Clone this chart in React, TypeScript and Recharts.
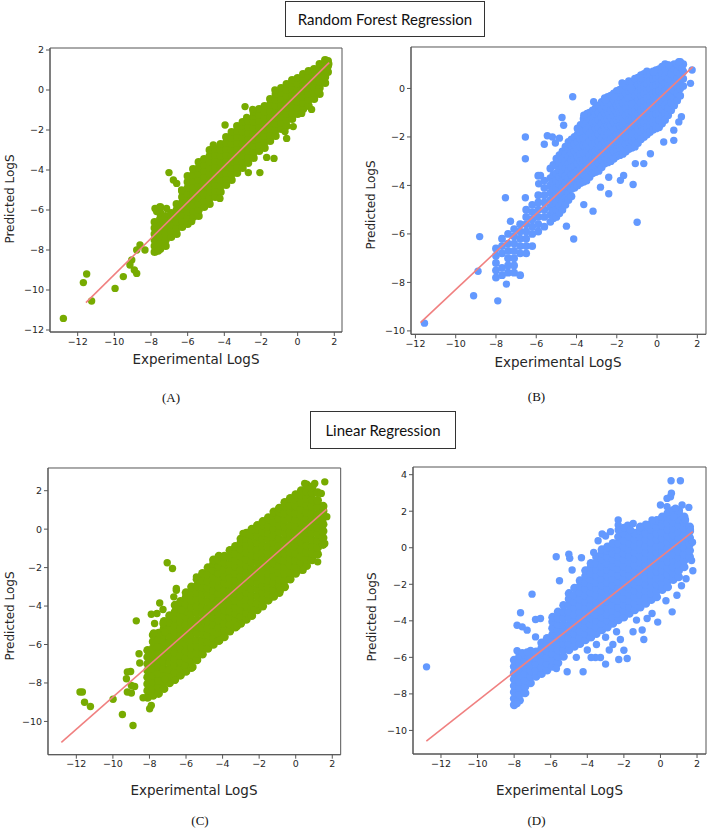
import { ScatterChart, Scatter, XAxis, YAxis, ReferenceArea } from 'recharts'

type Col = [number, number[]]
type Pt = [number, number]

const GREEN = '#77ab00'
const BLUE = '#6399ff'
const FIT = '#f08080'

const xTicks = [-12, -10, -8, -6, -4, -2, 0, 2]
const yTicksA = [-12, -10, -8, -6, -4, -2, 0, 2]
const yTicksB = [-10, -8, -6, -4, -2, 0]
const yTicksC = [-10, -8, -6, -4, -2, 0, 2]
const yTicksD = [-10, -8, -6, -4, -2, 0, 2, 4]

// (A) random forest, training set: dense band by column, then stray points
const rfTrainCols: Col[] = [
  [-7.8, [-8.1, -7.8, -7.5, -7.2, -6.9, -6.6]],
  [-7.5, [-7.95, -7.65, -7.35, -7.05, -6.75, -6.45, -6.15, -5.85]],
  [-7.2, [-7.8, -7.5, -7.2, -6.9, -6.6, -6.3]],
  [-6.9, [-7.35, -7.05, -6.75, -6.45, -6.15]],
  [-6.6, [-7.2, -6.9, -6.6, -6.3, -6.0, -5.7]],
  [-6.3, [-6.85, -6.55, -6.25, -5.95, -5.65, -5.35, -5.05]],
  [-6.0, [-6.7, -6.4, -6.1, -5.8, -5.5, -5.2, -4.9, -4.6, -4.3]],
  [-5.7, [-6.35, -6.05, -5.75, -5.45, -5.15, -4.85, -4.55, -4.25, -3.95]],
  [-5.4, [-6.3, -6.0, -5.7, -5.4, -5.1, -4.8, -4.5, -4.2, -3.9, -3.6]],
  [-5.1, [-5.85, -5.55, -5.25, -4.95, -4.65, -4.35, -4.05, -3.75, -3.45]],
  [-4.8, [-5.7, -5.4, -5.1, -4.8, -4.5, -4.2, -3.9, -3.6, -3.3, -3.0]],
  [-4.5, [-5.35, -5.05, -4.75, -4.45, -4.15, -3.85, -3.55, -3.25, -2.95]],
  [-4.2, [-5.1, -4.8, -4.5, -4.2, -3.9, -3.6, -3.3, -3.0, -2.7]],
  [-3.9, [-4.75, -4.45, -4.15, -3.85, -3.55, -3.25, -2.95, -2.65, -2.35]],
  [-3.6, [-4.5, -4.2, -3.9, -3.6, -3.3, -3.0, -2.7, -2.4, -2.1]],
  [-3.3, [-4.15, -3.85, -3.55, -3.25, -2.95, -2.65, -2.35, -2.05, -1.8]],
  [-3.0, [-3.9, -3.6, -3.3, -3.0, -2.7, -2.4, -2.1, -1.8, -1.6]],
  [-2.7, [-3.65, -3.35, -3.05, -2.75, -2.45, -2.15, -1.85, -1.55]],
  [-2.4, [-3.4, -3.1, -2.8, -2.5, -2.2, -1.9, -1.6, -1.3, -1.1]],
  [-2.1, [-3.05, -2.75, -2.45, -2.15, -1.85, -1.55, -1.25, -0.95]],
  [-1.8, [-2.9, -2.6, -2.3, -2.0, -1.7, -1.4, -1.1, -0.8]],
  [-1.5, [-2.55, -2.25, -1.95, -1.65, -1.35, -1.05, -0.75, -0.45]],
  [-1.2, [-2.3, -2.0, -1.7, -1.4, -1.1, -0.8, -0.5, -0.2]],
  [-0.9, [-1.95, -1.65, -1.35, -1.05, -0.75, -0.45, -0.15, 0.1]],
  [-0.6, [-1.8, -1.5, -1.2, -0.9, -0.6, -0.3, 0.0, 0.3]],
  [-0.3, [-1.45, -1.15, -0.85, -0.55, -0.25, 0.05, 0.35, 0.5]],
  [0.0, [-1.2, -0.9, -0.6, -0.3, 0.0, 0.3, 0.6]],
  [0.3, [-0.95, -0.65, -0.35, -0.05, 0.25, 0.55, 0.8]],
  [0.6, [-0.8, -0.5, -0.2, 0.1, 0.4, 0.7, 0.95]],
  [0.9, [-0.45, -0.15, 0.15, 0.45, 0.75, 1.05]],
  [1.2, [-0.2, 0.1, 0.4, 0.7, 1.0, 1.3]],
  [1.5, [0.35, 0.65, 0.95, 1.25, 1.5]],
  [1.65, [0.9, 1.2, 1.45]],
]
const rfTrainOut: Pt[] = [
  [-12.78, -11.42], [-11.24, -10.55], [-11.69, -9.63], [-11.51, -9.2], [-9.96, -9.92],
  [-9.51, -9.33], [-8.91, -9.0], [-8.78, -9.17], [-9.15, -8.75], [-9.05, -8.5],
  [-8.6, -7.75], [-8.78, -8.0], [-8.33, -8.0], [-7.6, -8.05], [-7.02, -4.13],
  [-6.78, -4.5], [-6.6, -4.67], [-6.33, -5.0], [-5.78, -6.58], [-7.33, -6.5],
  [-7.69, -6.08], [-7.78, -5.92], [-7.15, -5.92], [-4.6, -2.75], [-3.96, -1.75],
  [-2.78, -1.37], [-2.87, -0.83], [-2.45, -0.97], [-1.24, 0.0], [-1.29, -3.42],
  [-1.69, -3.37], [-2.06, -4.13], [-2.69, -4.13], [-0.69, -2.08], [-0.6, -2.42],
  [-0.24, -1.83], [0.76, -0.97], [1.12, -0.08], [0.22, -1.17], [-4.24, -5.42],
  [-5.15, -5.17], [1.7, 1.3],
]
const rfTrainFit: Pt[] = [[-11.55, -10.63], [1.72, 1.37]]

// (B) random forest, test set
const rfTestCols: Col[] = [
  [-8.0, [-7.8, -7.5, -7.2, -6.9, -6.6]],
  [-7.7, [-7.7, -7.4, -6.8, -6.5, -6.2]],
  [-7.4, [-7.6, -7.3, -7.0, -6.7, -6.4, -6.0]],
  [-7.1, [-7.6, -7.3, -7.0, -6.7, -6.4, -6.1, -5.8]],
  [-6.8, [-7.7, -6.8, -6.5, -6.2, -5.9, -5.6]],
  [-6.5, [-6.8, -6.5, -6.2, -5.9, -5.6, -5.3, -5.0]],
  [-6.2, [-6.5, -6.0, -5.7, -5.4, -5.1, -4.8]],
  [-5.9, [-5.9, -5.6, -5.3, -5.0, -4.7, -4.4, -3.6]],
  [-5.6, [-5.7, -5.3, -5.0, -4.7, -4.4, -4.1, -3.8]],
  [-5.3, [-5.5, -5.2, -4.9, -4.6, -4.3, -4.0, -3.7, -3.3]],
  [-5.15, [-5.35, -5.05, -4.75, -4.45, -4.15, -3.85, -3.55, -3.15]],
  [-5.0, [-5.3, -5.0, -4.7, -4.4, -4.1, -3.8, -3.5, -3.2, -2.9]],
  [-4.85, [-5.15, -4.85, -4.55, -4.25, -3.95, -3.65, -3.35, -3.05, -2.75]],
  [-4.7, [-5.0, -4.7, -4.4, -4.1, -3.8, -3.5, -3.2, -2.9, -2.6]],
  [-4.55, [-4.8, -4.5, -4.2, -3.9, -3.6, -3.3, -3.0, -2.7, -2.4]],
  [-4.4, [-4.6, -4.3, -4.0, -3.7, -3.4, -3.1, -2.8, -2.5, -2.2]],
  [-4.25, [-4.45, -4.15, -3.85, -3.55, -3.25, -2.95, -2.65, -2.35, -2.1]],
  [-4.1, [-4.1, -3.8, -3.5, -3.2, -2.9, -2.6, -2.3, -2.0]],
  [-3.95, [-4.0, -3.7, -3.4, -3.1, -2.8, -2.5, -2.2, -1.9, -1.65]],
  [-3.8, [-3.9, -3.6, -3.3, -3.0, -2.7, -2.4, -2.1, -1.8, -1.5]],
  [-3.65, [-3.85, -3.55, -3.25, -2.95, -2.65, -2.35, -2.05, -1.75, -1.45, -1.25]],
  [-3.5, [-3.8, -3.5, -3.2, -2.9, -2.6, -2.3, -2.0, -1.7, -1.4, -1.1]],
  [-3.35, [-3.65, -3.35, -3.05, -2.75, -2.45, -2.15, -1.85, -1.55, -1.25, -1.0]],
  [-3.2, [-3.5, -3.2, -2.9, -2.6, -2.3, -2.0, -1.7, -1.4, -1.1, -0.9]],
  [-3.05, [-3.45, -3.15, -2.85, -2.55, -2.25, -1.95, -1.65, -1.35, -1.05, -0.8]],
  [-2.9, [-3.4, -3.1, -2.8, -2.5, -2.2, -1.9, -1.6, -1.3, -1.0, -0.7]],
  [-2.75, [-3.25, -2.95, -2.65, -2.35, -2.05, -1.75, -1.45, -1.15, -0.85, -0.55]],
  [-2.6, [-3.1, -2.8, -2.5, -2.2, -1.9, -1.6, -1.3, -1.0, -0.7, -0.4]],
  [-2.45, [-3.05, -2.75, -2.45, -2.15, -1.85, -1.55, -1.25, -0.95, -0.65, -0.35]],
  [-2.3, [-3.0, -2.7, -2.4, -2.1, -1.8, -1.5, -1.2, -0.9, -0.6, -0.3]],
  [-2.15, [-2.9, -2.6, -2.3, -2.0, -1.7, -1.4, -1.1, -0.8, -0.5, -0.2]],
  [-2.0, [-2.8, -2.5, -2.2, -1.9, -1.6, -1.3, -1.0, -0.7, -0.4, -0.1]],
  [-1.85, [-2.75, -2.45, -2.15, -1.85, -1.55, -1.25, -0.95, -0.65, -0.35, -0.05]],
  [-1.7, [-2.7, -2.4, -2.1, -1.8, -1.5, -1.2, -0.9, -0.6, -0.3, 0.0, 0.2]],
  [-1.55, [-2.6, -2.3, -2.0, -1.7, -1.4, -1.1, -0.8, -0.5, -0.2, 0.1]],
  [-1.4, [-2.5, -2.2, -1.9, -1.6, -1.3, -1.0, -0.7, -0.4, -0.1, 0.3]],
  [-1.25, [-2.45, -2.15, -1.85, -1.55, -1.25, -0.95, -0.65, -0.35, -0.05, 0.25]],
  [-1.1, [-2.4, -2.1, -1.8, -1.5, -1.2, -0.9, -0.6, -0.3, 0.0, 0.4]],
  [-0.95, [-2.25, -1.95, -1.65, -1.35, -1.05, -0.75, -0.45, -0.15, 0.15, 0.45]],
  [-0.8, [-2.1, -1.8, -1.5, -1.2, -0.9, -0.6, -0.3, 0.0, 0.3, 0.55]],
  [-0.65, [-2.0, -1.7, -1.4, -1.1, -0.8, -0.5, -0.2, 0.1, 0.4, 0.6]],
  [-0.5, [-1.9, -1.6, -1.3, -1.0, -0.7, -0.4, -0.1, 0.2, 0.5, 0.7]],
  [-0.35, [-1.8, -1.5, -1.2, -0.9, -0.6, -0.3, 0.0, 0.3, 0.6]],
  [-0.2, [-1.7, -1.4, -1.1, -0.8, -0.5, -0.2, 0.1, 0.4, 0.7]],
  [-0.05, [-1.65, -1.35, -1.05, -0.75, -0.45, -0.15, 0.15, 0.45, 0.75]],
  [0.1, [-1.6, -1.3, -1.0, -0.7, -0.4, -0.1, 0.2, 0.5, 0.8]],
  [0.25, [-1.45, -1.15, -0.85, -0.55, -0.25, 0.05, 0.35, 0.65, 0.9]],
  [0.4, [-1.3, -1.0, -0.7, -0.4, -0.1, 0.2, 0.5, 0.8, 1.0]],
  [0.55, [-1.1, -0.8, -0.5, -0.2, 0.1, 0.4, 0.7, 0.95]],
  [0.7, [-0.9, -0.6, -0.3, 0.0, 0.3, 0.6, 0.9]],
  [0.85, [-0.7, -0.4, -0.1, 0.2, 0.5, 0.8, 1.0]],
  [1.0, [-0.5, -0.2, 0.1, 0.4, 0.7, 1.0]],
  [1.15, [-0.3, 0.0, 0.3, 0.6, 0.9, 1.1]],
  [1.3, [0.1, 0.4, 0.7, 1.0]],
]
const rfTestOut: Pt[] = [
  [-11.55, -9.68], [-7.91, -8.76], [-9.11, -8.55], [-7.48, -8.07], [-8.89, -7.54],
  [-8.81, -6.11], [-7.53, -4.51], [-6.54, -2.9], [-6.54, -2.0], [-6.54, -4.51],
  [-7.28, -5.48], [-4.19, -0.34], [-4.72, -1.2], [-4.64, -1.52], [-4.14, -6.21],
  [-0.99, -5.52], [-1.19, -3.96], [-3.18, -5.06], [-3.64, -4.79], [-4.5, -5.68],
  [-5.45, -1.95], [-5.2, -2.0], [-5.05, -2.25], [-4.85, -2.05], [-5.6, -2.3],
  [-5.79, -3.59], [-5.88, -3.93], [0.83, -2.14], [0.83, -1.72], [1.66, 0.21],
  [1.74, 0.76], [1.21, -1.17], [1.08, -1.38], [0.33, -2.21], [-0.33, -2.69],
  [-0.66, -3.1], [-1.08, -3.1], [-1.66, -3.59], [-1.82, -3.79], [-2.4, -3.66],
  [-2.4, -4.34], [-2.81, -4.07], [-3.48, -1.03], [-3.64, -1.1], [-3.15, -0.55],
  [-2.57, -0.48], [-2.15, -0.34], [-1.32, 0.04], [-1.74, 0.23], [-0.83, 0.44],
  [-0.17, 0.69], [0.58, 0.97], [1.08, 1.1], [1.24, 0.83],
]
const rfTestFit: Pt[] = [[-11.75, -9.66], [1.77, 0.89]]

// (C) linear regression, training set
const lrTrainCols: Col[] = [
  [-8.1, [-8.75, -8.4, -8.05, -7.7, -7.35, -7.0, -6.65, -6.3]],
  [-7.8, [-8.65, -8.3, -7.95, -7.6, -7.25, -6.9, -6.55, -6.2, -5.85, -5.5]],
  [-7.5, [-8.55, -8.2, -7.85, -7.5, -7.15, -6.8, -6.45, -6.1, -5.75, -5.4]],
  [-7.2, [-8.3, -7.95, -7.6, -7.25, -6.9, -6.55, -6.2, -5.85, -5.5, -5.15, -4.8]],
  [-6.9, [-8.0, -7.65, -7.3, -6.95, -6.6, -6.25, -5.9, -5.55, -5.2, -4.85, -4.5]],
  [-6.6, [-7.8, -7.45, -7.1, -6.75, -6.4, -6.05, -5.7, -5.35, -5.0, -4.65, -4.3, -3.95]],
  [-6.3, [-7.6, -7.25, -6.9, -6.55, -6.2, -5.85, -5.5, -5.15, -4.8, -4.45, -4.1, -3.75]],
  [-6.0, [-7.4, -7.05, -6.7, -6.35, -6.0, -5.65, -5.3, -4.95, -4.6, -4.25, -3.9, -3.55, -3.3]],
  [-5.7, [-7.2, -6.85, -6.5, -6.15, -5.8, -5.45, -5.1, -4.75, -4.4, -4.05, -3.7, -3.35, -3.0]],
  [-5.4, [-6.8, -6.45, -6.1, -5.75, -5.4, -5.05, -4.7, -4.35, -4.0, -3.65, -3.3, -2.95, -2.6]],
  [-5.1, [-6.5, -6.15, -5.8, -5.45, -5.1, -4.75, -4.4, -4.05, -3.7, -3.35, -3.0, -2.65, -2.3]],
  [-4.8, [-6.2, -5.85, -5.5, -5.15, -4.8, -4.45, -4.1, -3.75, -3.4, -3.05, -2.7, -2.35, -2.0]],
  [-4.5, [-6.0, -5.65, -5.3, -4.95, -4.6, -4.25, -3.9, -3.55, -3.2, -2.85, -2.5, -2.15, -1.8, -1.6]],
  [-4.2, [-5.8, -5.45, -5.1, -4.75, -4.4, -4.05, -3.7, -3.35, -3.0, -2.65, -2.3, -1.95, -1.6, -1.4]],
  [-3.9, [-5.6, -5.25, -4.9, -4.55, -4.2, -3.85, -3.5, -3.15, -2.8, -2.45, -2.1, -1.75, -1.4]],
  [-3.6, [-5.3, -4.95, -4.6, -4.25, -3.9, -3.55, -3.2, -2.85, -2.5, -2.15, -1.8, -1.45, -1.1]],
  [-3.3, [-5.1, -4.75, -4.4, -4.05, -3.7, -3.35, -3.0, -2.65, -2.3, -1.95, -1.6, -1.25, -0.9]],
  [-3.0, [-4.9, -4.55, -4.2, -3.85, -3.5, -3.15, -2.8, -2.45, -2.1, -1.75, -1.4, -1.05, -0.7, -0.5]],
  [-2.7, [-4.7, -4.35, -4.0, -3.65, -3.3, -2.95, -2.6, -2.25, -1.9, -1.55, -1.2, -0.85, -0.5, -0.2]],
  [-2.4, [-4.5, -4.15, -3.8, -3.45, -3.1, -2.75, -2.4, -2.05, -1.7, -1.35, -1.0, -0.65, -0.3, 0.0]],
  [-2.1, [-4.2, -3.85, -3.5, -3.15, -2.8, -2.45, -2.1, -1.75, -1.4, -1.05, -0.7, -0.35, 0.0, 0.2]],
  [-1.8, [-4.0, -3.65, -3.3, -2.95, -2.6, -2.25, -1.9, -1.55, -1.2, -0.85, -0.5, -0.15, 0.2, 0.4]],
  [-1.5, [-3.7, -3.35, -3.0, -2.65, -2.3, -1.95, -1.6, -1.25, -0.9, -0.55, -0.2, 0.15, 0.5, 0.6]],
  [-1.2, [-3.5, -3.15, -2.8, -2.45, -2.1, -1.75, -1.4, -1.05, -0.7, -0.35, 0.0, 0.35, 0.7, 0.9]],
  [-0.9, [-3.3, -2.95, -2.6, -2.25, -1.9, -1.55, -1.2, -0.85, -0.5, -0.15, 0.2, 0.55, 0.9, 1.1]],
  [-0.6, [-3.0, -2.65, -2.3, -1.95, -1.6, -1.25, -0.9, -0.55, -0.2, 0.15, 0.5, 0.85, 1.2, 1.4]],
  [-0.3, [-2.6, -2.25, -1.9, -1.55, -1.2, -0.85, -0.5, -0.15, 0.2, 0.55, 0.9, 1.25, 1.6]],
  [0.0, [-2.3, -1.95, -1.6, -1.25, -0.9, -0.55, -0.2, 0.15, 0.5, 0.85, 1.2, 1.55, 1.8]],
  [0.3, [-2.1, -1.75, -1.4, -1.05, -0.7, -0.35, 0.0, 0.35, 0.7, 1.05, 1.4, 1.75, 2.0]],
  [0.6, [-1.9, -1.55, -1.2, -0.85, -0.5, -0.15, 0.2, 0.55, 0.9, 1.25, 1.6, 1.95, 2.3]],
  [0.9, [-1.6, -1.25, -0.9, -0.55, -0.2, 0.15, 0.5, 0.85, 1.2, 1.55, 1.9, 2.2]],
  [1.2, [-1.3, -0.95, -0.6, -0.25, 0.1, 0.45, 0.8, 1.15, 1.5, 1.9]],
  [1.5, [-0.8, -0.45, -0.1, 0.25, 0.6, 0.95, 1.2]],
]
const lrTrainOut: Pt[] = [
  [-11.67, -8.47], [-11.8, -8.47], [-11.55, -9.0], [-11.23, -9.22], [-9.99, -8.85],
  [-9.48, -9.64], [-8.9, -10.21], [-9.21, -7.43], [-9.03, -7.4], [-9.26, -7.78],
  [-8.99, -8.13], [-8.81, -8.18], [-9.21, -8.47], [-8.99, -8.52], [-8.35, -8.77],
  [-7.99, -9.34], [-7.9, -9.17], [-8.72, -4.77], [-8.57, -6.48], [-8.53, -6.96],
  [-7.03, -1.75], [-6.74, -2.05], [-6.53, -3.18], [-6.67, -3.52], [-7.9, -4.43],
  [-7.44, -3.84], [-7.26, -4.18], [-7.59, -4.39], [-7.72, -4.91], [-7.77, -5.4],
  [-7.26, -4.91], [-7.17, -5.35], [-6.9, -4.5], [-6.53, -3.09], [-5.43, -2.48],
  [-6.25, -4.2], [0.49, 2.38], [1.04, 2.38], [1.59, 2.46], [1.4, 1.86],
  [1.7, 0.65], [1.59, -0.75], [1.2, -1.7], [0.4, -2.14], [-0.84, -3.18],
  [-2.3, -4.22], [-3.2, -5.05], [-4.16, -5.78], [-5.62, -7.17], [-6.6, -7.86],
  [-7.15, -7.8], [-2.88, -0.22],
]
const lrTrainFit: Pt[] = [[-12.82, -11.09], [1.68, 1.03]]

// (D) linear regression, test set
const lrTestCols: Col[] = [
  [-8.0, [-8.6, -8.25, -7.9, -7.55, -7.2, -6.85, -6.5, -6.15]],
  [-7.7, [-8.35, -8.0, -7.65, -7.3, -6.95, -6.6, -6.25, -5.9]],
  [-7.4, [-7.95, -7.6, -7.25, -6.9, -6.55, -6.2, -5.85]],
  [-7.1, [-7.4, -7.05, -6.7, -6.35, -6.0, -5.65]],
  [-6.8, [-7.05, -6.7, -6.35, -6.0, -5.7]],
  [-6.5, [-6.9, -6.55, -6.2, -5.85, -5.5, -5.2]],
  [-6.2, [-6.7, -6.35, -6.0, -5.65, -5.3, -4.95]],
  [-5.9, [-6.5, -6.15, -5.8, -5.45, -5.1, -4.75, -4.4, -4.05, -3.8]],
  [-5.6, [-6.3, -5.95, -5.6, -5.25, -4.9, -4.55, -4.2, -3.85, -3.5]],
  [-5.3, [-5.95, -5.6, -5.25, -4.9, -4.55, -4.2, -3.85, -3.5, -3.15]],
  [-5.0, [-5.6, -5.25, -4.9, -4.55, -4.2, -3.85, -3.5, -3.15, -2.8, -2.5]],
  [-4.7, [-5.4, -5.05, -4.7, -4.35, -4.0, -3.65, -3.3, -2.95, -2.6, -2.2]],
  [-4.4, [-5.25, -4.9, -4.55, -4.2, -3.85, -3.5, -3.15, -2.8, -2.45, -2.1, -1.8]],
  [-4.1, [-5.05, -4.7, -4.35, -4.0, -3.65, -3.3, -2.95, -2.6, -2.25, -1.9, -1.55, -1.25]],
  [-3.8, [-4.9, -4.55, -4.2, -3.85, -3.5, -3.15, -2.8, -2.45, -2.1, -1.75, -1.4, -1.05, -0.85]],
  [-3.5, [-4.7, -4.35, -4.0, -3.65, -3.3, -2.95, -2.6, -2.25, -1.9, -1.55, -1.2, -0.85, -0.5]],
  [-3.2, [-4.5, -4.15, -3.8, -3.45, -3.1, -2.75, -2.4, -2.05, -1.7, -1.35, -1.0, -0.65, -0.3, -0.1]],
  [-2.9, [-4.35, -4.0, -3.65, -3.3, -2.95, -2.6, -2.25, -1.9, -1.55, -1.2, -0.85, -0.5, -0.15, 0.05]],
  [-2.6, [-4.15, -3.8, -3.45, -3.1, -2.75, -2.4, -2.05, -1.7, -1.35, -1.0, -0.65, -0.3, 0.05, 0.25]],
  [-2.3, [-3.95, -3.6, -3.25, -2.9, -2.55, -2.2, -1.85, -1.5, -1.15, -0.8, -0.45, -0.1, 0.25, 0.6]],
  [-2.0, [-3.8, -3.45, -3.1, -2.75, -2.4, -2.05, -1.7, -1.35, -1.0, -0.65, -0.3, 0.05, 0.4, 0.8]],
  [-1.7, [-3.6, -3.25, -2.9, -2.55, -2.2, -1.85, -1.5, -1.15, -0.8, -0.45, -0.1, 0.25, 0.6, 0.95]],
  [-1.4, [-3.4, -3.05, -2.7, -2.35, -2.0, -1.65, -1.3, -0.95, -0.6, -0.25, 0.1, 0.45, 0.8]],
  [-1.1, [-3.25, -2.9, -2.55, -2.2, -1.85, -1.5, -1.15, -0.8, -0.45, -0.1, 0.25, 0.6, 0.95, 1.15]],
  [-0.8, [-3.05, -2.7, -2.35, -2.0, -1.65, -1.3, -0.95, -0.6, -0.25, 0.1, 0.45, 0.8, 1.15, 1.25]],
  [-0.5, [-2.85, -2.5, -2.15, -1.8, -1.45, -1.1, -0.75, -0.4, -0.05, 0.3, 0.65, 1.0, 1.3]],
  [-0.2, [-2.7, -2.35, -2.0, -1.65, -1.3, -0.95, -0.6, -0.25, 0.1, 0.45, 0.8, 1.15, 1.5]],
  [0.1, [-2.3, -1.95, -1.6, -1.25, -0.9, -0.55, -0.2, 0.15, 0.5, 0.85, 1.2, 1.55, 1.7]],
  [0.4, [-2.15, -1.8, -1.45, -1.1, -0.75, -0.4, -0.05, 0.3, 0.65, 1.0, 1.35, 1.7, 1.9]],
  [0.7, [-1.75, -1.4, -1.05, -0.7, -0.35, 0.0, 0.35, 0.7, 1.05, 1.4, 1.75, 2.05]],
  [1.0, [-1.6, -1.25, -0.9, -0.55, -0.2, 0.15, 0.5, 0.85, 1.2, 1.55, 1.9, 2.05]],
  [1.3, [-1.05, -0.7, -0.35, 0.0, 0.35, 0.7, 1.05, 1.4, 1.7]],
  [1.6, [-0.5, -0.15, 0.2, 0.55, 0.9, 1.15]],
]
const lrTestOut: Pt[] = [
  [-12.79, -6.52], [-7.89, -8.44], [-7.84, -8.53], [-7.65, -3.56], [-7.02, -2.54],
  [-7.84, -4.24], [-7.56, -4.33], [-7.29, -4.51], [-6.83, -3.93], [-6.56, -3.87],
  [-6.83, -4.88], [-7.84, -5.64], [-7.56, -5.75], [-7.29, -5.7], [-5.7, -0.49],
  [-5.52, -1.81], [-5.01, -0.35], [-4.96, -0.58], [-4.83, -1.22], [-4.32, -0.55],
  [-3.65, -0.26], [-3.41, 0.38], [-3.19, 0.75], [-3.0, 0.64], [-2.73, 0.88],
  [-2.31, 1.52], [-2.31, 1.24], [-2.31, 0.97], [-2.0, 1.11], [-1.79, 1.24],
  [-1.64, 0.97], [-1.49, 1.33], [-1.13, 1.11], [-0.73, 1.24], [-0.46, 1.52],
  [0.55, 2.79], [0.36, 2.7], [0.6, 2.98], [0.0, 2.34], [0.58, 3.67],
  [1.09, 3.67], [0.36, 2.25], [0.82, 2.16], [1.18, 2.34], [1.55, 2.21],
  [0.73, 1.7], [1.37, 1.52], [1.64, 0.97], [1.77, -1.26], [0.64, -3.51],
  [1.15, -2.08], [-0.15, -4.07], [-0.91, -5.02], [-1.31, -3.96], [-2.28, -6.12],
  [-3.0, -6.37], [-3.28, -6.01], [-3.55, -6.01], [-3.79, -6.01], [-4.23, -6.79],
  [-5.1, -6.79], [-5.69, -6.61], [-1.82, -6.06], [-2.0, -5.61], [-2.19, -5.02],
  [-2.6, -5.3], [-2.8, -5.6], [-0.73, -3.87], [-0.46, -3.6], [-1.0, -4.5],
  [-1.5, -4.6], [-2.4, -4.6], [-3.0, -4.9], [-3.5, -5.3], [-4.0, -5.6],
  [-4.6, -6.0], [0.3, -2.9], [0.9, -2.6], [1.4, -1.7], [1.7, -0.7],
  [1.75, 0.3],
]
const lrTestFit: Pt[] = [[-12.8, -10.58], [1.77, 0.88]]

const minus = (v: number) => String(v).replace('-', '\u2212')
const toXY = (pts: Pt[]) => pts.map(([x, y]) => ({ x, y }))

type PanelProps = {
  frame: [number, number, number, number]
  xDomain: [number, number]
  yDomain: [number, number]
  yTicks: number[]
  cols: Col[]
  extra: Pt[]
  fit: Pt[]
  color: string
  coreR: number
}

function Panel({ frame, xDomain, yDomain, yTicks, cols, extra, fit, color, coreR }: PanelProps) {
  const [L, T, R, B] = frame
  const core = cols.flatMap(([x, ys]) => ys.map((y) => ({ x, y })))
  const tickStyle = { fontSize: 9.5, fill: '#262626', fontFamily: 'DejaVu Sans' }
  return (
    <div style={{ position: 'absolute', left: L - 45, top: T - 10 }}>
      <ScatterChart width={R - L + 47} height={B - T + 40} margin={{ top: 10, right: 2, bottom: 0, left: 0 }}>
        <XAxis
          type="number"
          dataKey="x"
          domain={xDomain}
          ticks={xTicks}
          interval={0}
          allowDataOverflow
          height={30}
          tickSize={4}
          tick={tickStyle}
          tickFormatter={minus}
          axisLine={{ stroke: '#555' }}
          tickLine={{ stroke: '#555' }}
        />
        <YAxis
          type="number"
          dataKey="y"
          domain={yDomain}
          ticks={yTicks}
          interval={0}
          allowDataOverflow
          width={45}
          tickSize={4}
          tick={tickStyle}
          tickFormatter={minus}
          axisLine={{ stroke: '#555' }}
          tickLine={{ stroke: '#555' }}
        />
        <ReferenceArea
          x1={xDomain[0]}
          x2={xDomain[1]}
          y1={yDomain[0]}
          y2={yDomain[1]}
          fill="none"
          stroke="#555"
          strokeWidth={1}
          ifOverflow="visible"
        />
        <Scatter
          data={core}
          fill={color}
          isAnimationActive={false}
          shape={(p: any) => <circle cx={p.cx} cy={p.cy} r={coreR} fill={color} />}
        />
        <Scatter
          data={toXY(extra)}
          fill={color}
          isAnimationActive={false}
          shape={(p: any) => <circle cx={p.cx} cy={p.cy} r={3.7} fill={color} />}
        />
        <Scatter
          data={toXY(fit)}
          line={{ stroke: FIT, strokeWidth: 1.6 }}
          isAnimationActive={false}
          shape={() => <g />}
        />
      </ScatterChart>
    </div>
  )
}

export default function App() {
  const axisFont = 'DejaVu Sans'
  return (
    <div style={{ position: 'absolute', left: 0, top: 0, width: 708, height: 830, overflow: 'hidden', background: '#fff' }}>
      <Panel frame={[50, 48, 342, 332]} xDomain={[-13.51, 2.42]} yDomain={[-12.1, 2.1]} yTicks={yTicksA}
        cols={rfTrainCols} extra={rfTrainOut} fit={rfTrainFit} color={GREEN} coreR={4.1} />
      <Panel frame={[411.3, 47, 706.3, 334.3]} xDomain={[-12.22, 2.43]} yDomain={[-10.14, 1.71]} yTicks={yTicksB}
        cols={rfTestCols} extra={rfTestOut} fit={rfTestFit} color={BLUE} coreR={3.9} />
      <Panel frame={[48.3, 468.3, 341, 755]} xDomain={[-13.55, 2.46]} yDomain={[-11.73, 3.18]} yTicks={yTicksC}
        cols={lrTrainCols} extra={lrTrainOut} fit={lrTrainFit} color={GREEN} coreR={4.35} />
      <Panel frame={[413.3, 467.3, 706.3, 754.3]} xDomain={[-13.53, 2.49]} yDomain={[-11.29, 4.42]} yTicks={yTicksD}
        cols={lrTestCols} extra={lrTestOut} fit={lrTestFit} color={BLUE} coreR={4.3} />

      <svg width={708} height={830} style={{ position: 'absolute', left: 0, top: 0, pointerEvents: 'none' }}>
        <rect x={285.5} y={1.5} width={199} height={35} fill="#fff" stroke="#333" />
        <text x={385} y={19} textAnchor="middle" dominantBaseline="central" fontFamily="Lato" fontSize={15} fill="#111">
          Random Forest Regression
        </text>
        <rect x={310.5} y={411.5} width={145} height={37} fill="#fff" stroke="#333" />
        <text x={383} y={430} textAnchor="middle" dominantBaseline="central" fontFamily="Lato" fontSize={15} fill="#111">
          Linear Regression
        </text>

        {[[196, 359], [558, 362], [194, 790], [559.5, 790]].map(([x, y], i) => (
          <text key={`xl${i}`} x={x} y={y} textAnchor="middle" dominantBaseline="central" fontFamily={axisFont} fontSize={13.5} fill="#262626">
            Experimental LogS
          </text>
        ))}
        {[[9.5, 199], [371, 205], [9.5, 616], [372, 617]].map(([x, y], i) => (
          <text key={`yl${i}`} x={x} y={y} transform={`rotate(-90 ${x} ${y})`} textAnchor="middle" dominantBaseline="central" fontFamily={axisFont} fontSize={12} fill="#262626">
            Predicted LogS
          </text>
        ))}
        {[['(A)', 171, 397], ['(B)', 536.5, 396], ['(C)', 200, 820], ['(D)', 536.5, 820]].map(([t, x, y]) => (
          <text key={t as string} x={x as number} y={y as number} textAnchor="middle" dominantBaseline="central" fontFamily="Liberation Serif" fontSize={13} fill="#111">
            {t}
          </text>
        ))}
      </svg>
    </div>
  )
}
